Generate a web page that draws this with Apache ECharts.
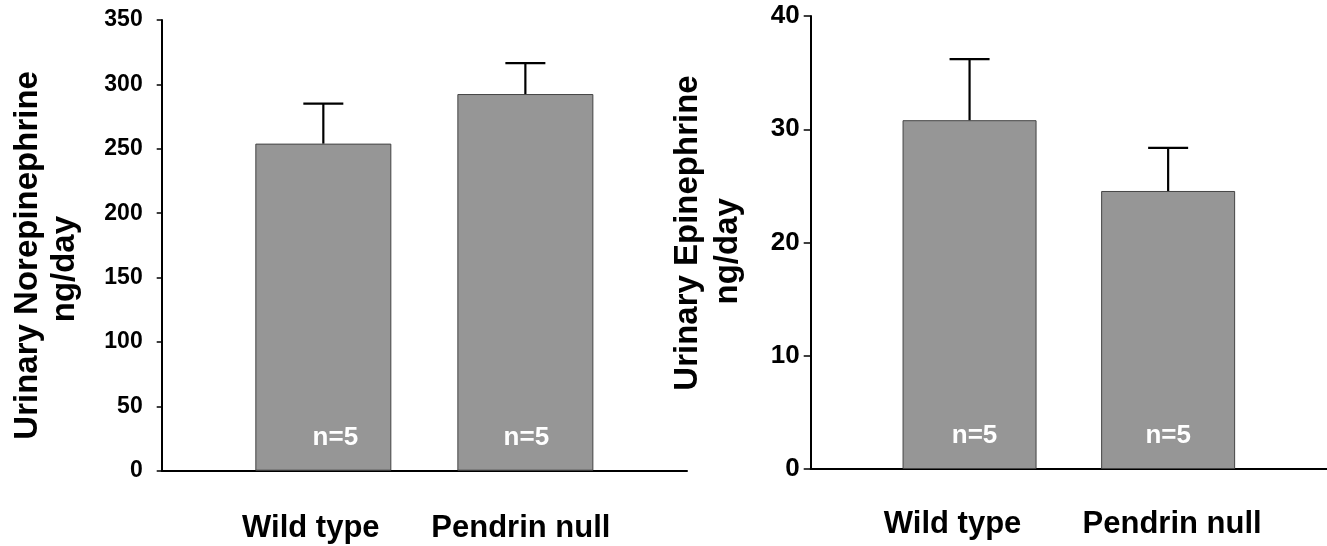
<!DOCTYPE html>
<html>
<head>
<meta charset="utf-8">
<script src="https://cdn.jsdelivr.net/npm/echarts@6/dist/echarts.min.js"></script>
<style>
html,body{margin:0;padding:0;background:#fff;}
#c{width:1327px;height:546px;}
</style>
</head>
<body>
<div id="c"></div>
<script>
// ---- data ----
const categories = ['Wild type', 'Pendrin null'];
const catPos = [1, 2];
const nLabels = ['n=5', 'n=5'];
const norepiMean = [254, 292.5];
const norepiErr = [31, 24];
const epiMean = [30.8, 24.55];
const epiErr = [5.4, 3.8];
const norepiTicks = { min: 0, max: 350, interval: 50 };
const epiTicks = { min: 0, max: 40, interval: 10 };

const chart = echarts.init(document.getElementById('c'));
const BAR = '#969696';
const TXT = "'Liberation Sans', Arial, sans-serif";

function errRender(params, api) {
  const x = api.value(0), m = api.value(1), e = api.value(2);
  const p0 = api.coord([x, m]);
  const p1 = api.coord([x, m + e]);
  const st = { stroke: '#000', lineWidth: 2.2 };
  return {
    type: 'group',
    children: [
      { type: 'line', shape: { x1: p0[0], y1: p0[1], x2: p1[0], y2: p1[1] }, style: st },
      { type: 'line', shape: { x1: p1[0] - 20, y1: p1[1], x2: p1[0] + 20, y2: p1[1] }, style: st }
    ]
  };
}

function xAxisCfg(idx, margin, pads) {
  const rich = {};
  pads.forEach((p, i) => {
    rich['l' + i] = { fontFamily: TXT, fontWeight: 'bold', fontSize: 31, color: '#000', padding: p };
  });
  return {
    type: 'value', gridIndex: idx, min: 0.2, max: 2.8,
    splitLine: { show: false },
    axisTick: { show: false },
    axisLine: { show: true, onZero: false, lineStyle: { color: '#000', width: 2 } },
    axisLabel: {
      customValues: catPos,
      margin: margin,
      formatter: function (v) {
        const i = catPos.indexOf(Math.round(v));
        return i < 0 ? '' : '{l' + i + '|' + categories[i] + '}';
      },
      rich: rich
    }
  };
}

function yAxisCfg(idx, ticks, name, gap, lh, namePad, labFont, labMargin, tickLen) {
  return {
    type: 'value', gridIndex: idx, min: ticks.min, max: ticks.max, interval: ticks.interval,
    splitLine: { show: false },
    axisLine: { show: true, lineStyle: { color: '#000', width: 2 } },
    axisTick: { show: true, length: tickLen, lineStyle: { color: '#000', width: 1.5 } },
    axisLabel: { color: '#000', fontFamily: TXT, fontWeight: 'bold', fontSize: labFont, margin: labMargin },
    name: name, nameLocation: 'middle', nameRotate: 90, nameGap: gap,
    nameTextStyle: { color: '#000', fontFamily: TXT, fontWeight: 'bold', fontSize: 33, lineHeight: lh, padding: namePad }
  };
}

function barSeries(idx, means, barWidth, offsets) {
  return {
    type: 'bar', xAxisIndex: idx, yAxisIndex: idx, barWidth: barWidth,
    itemStyle: { color: BAR, borderColor: '#444', borderWidth: 1 },
    data: means.map((m, i) => ({ value: [catPos[i], m], label: { offset: offsets[i] } })),
    label: {
      show: true, position: 'insideBottom', distance: 20,
      formatter: (p) => nLabels[p.dataIndex],
      color: '#fff', fontFamily: TXT, fontWeight: 'bold', fontSize: 26
    },
    silent: true
  };
}

function errSeries(idx, means, errs) {
  return {
    type: 'custom', xAxisIndex: idx, yAxisIndex: idx, z: 5,
    renderItem: errRender,
    encode: { x: 0, y: 1 },
    data: means.map((m, i) => [catPos[i], m, errs[i]]),
    silent: true
  };
}

chart.setOption({
  animation: false,
  backgroundColor: '#fff',
  grid: [
    { left: 161.7, top: 20, width: 525.3, bottom: 75.3 },
    { left: 810.7, top: 16, right: 0, bottom: 77 }
  ],
  xAxis: [
    xAxisCfg(0, 42, [[0, 25, 0, 0], [0, 9, 0, 0]]),
    xAxisCfg(1, 40, [[0, 34, 0, 0], [0, 0, 0, 8]])
  ],
  yAxis: [
    yAxisCfg(0, norepiTicks, 'Urinary Norepinephrine\nng/day   ', 78, 37, [0, 20, 0, 0], 23, 19, 5),
    yAxisCfg(1, epiTicks, 'Urinary Epinephrine\nng/day    ', 63, 40, [0, 0, 0, 19], 26, 11, 7)
  ],
  series: [
    barSeries(0, norepiMean, 136, [[12, 0], [1, 0]]),
    errSeries(0, norepiMean, norepiErr),
    barSeries(1, epiMean, 134, [[5, 0], [0, 0]]),
    errSeries(1, epiMean, epiErr)
  ]
});
</script>
</body>
</html>
